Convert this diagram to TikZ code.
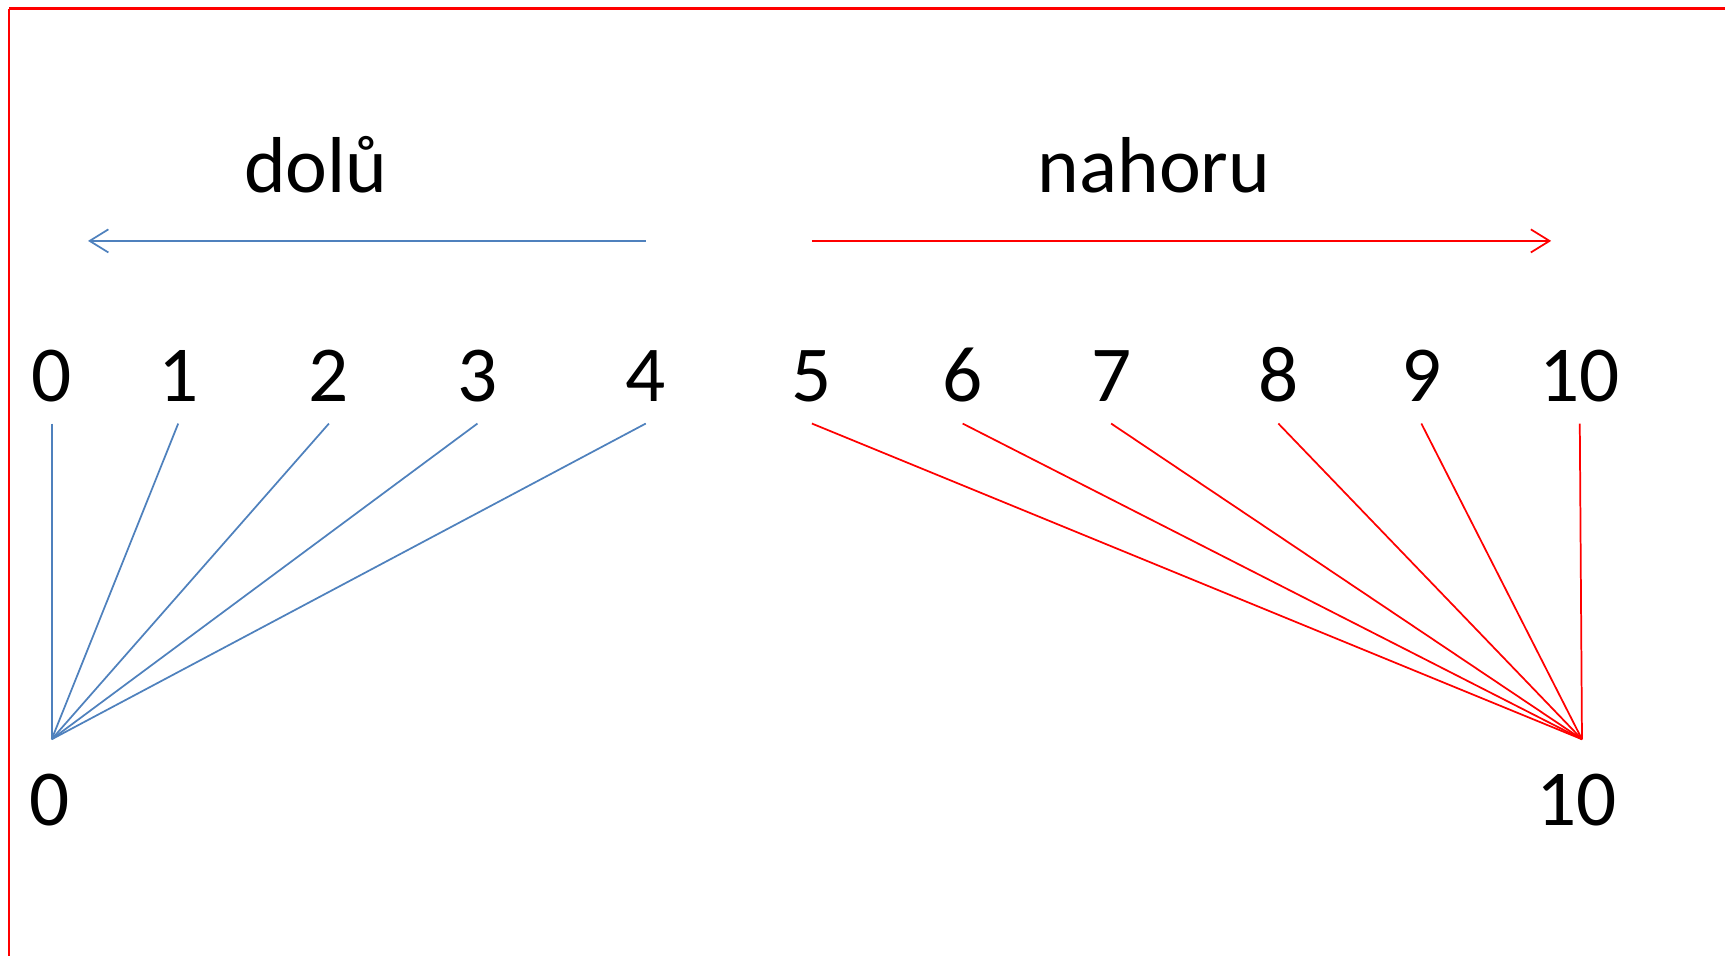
\documentclass[tikz,border=0pt]{standalone}
\usepackage{fontspec}
\setmainfont{Carlito}
\usetikzlibrary{arrows.meta}
\definecolor{dolublue}{HTML}{4F81BD}
\tikzset{
  num/.style={font=\fontsize{20.5}{24}\selectfont, anchor=base, text depth=0pt, inner sep=0pt, outer sep=2mm},
  word/.style={font=\fontsize{20.5}{24}\selectfont, anchor=base},
  down/.style={draw=dolublue, line width=0.45pt},
  up/.style={draw=red, line width=0.45pt}
}

\begin{document}
\begin{tikzpicture}[x=0.1mm, y=-0.1mm, >={Straight Barb[length=1.7mm,width=2.1mm]}]
      \useasboundingbox (0,0) rectangle (1568,869);
      \draw [red, line width=0.8pt] (8,8) -- (1568,8);
      \draw [red, line width=0.4pt] (8,8) -- (8,869);
      \node [word] (dolu) at (287,175) {dolů};
      \node [word] (nahoru) at (1049,175) {nahoru};
      \coordinate (dstart) at (587,219);
      \coordinate (dend) at (80,219);
      \coordinate (ustart) at (738,219);
      \coordinate (uend) at (1410,219);
      \draw [down, ->] (dstart) -- (dend);
      \draw [up, ->] (ustart) -- (uend);
      \node [num] (b0) at (45,750) {0};
      \node [num] (b10) at (1433,750) {10};
      \coordinate (lo) at (47,672);
      \coordinate (hi) at (1438,672);
      \foreach \n/\x in {0/47,1/162,2/299,3/434,4/587}{
        \node [num] (t\n) at (\x,365) {\n};
        \draw [down] (t\n.south) -- (lo);
      }
      \foreach \n/\x in {5/738,6/875,7/1010,8/1162,9/1292,10/1436}{
        \node [num] (t\n) at (\x,365) {\n};
        \draw [up] (t\n.south) -- (hi);
      }
    \end{tikzpicture}
\end{document}
